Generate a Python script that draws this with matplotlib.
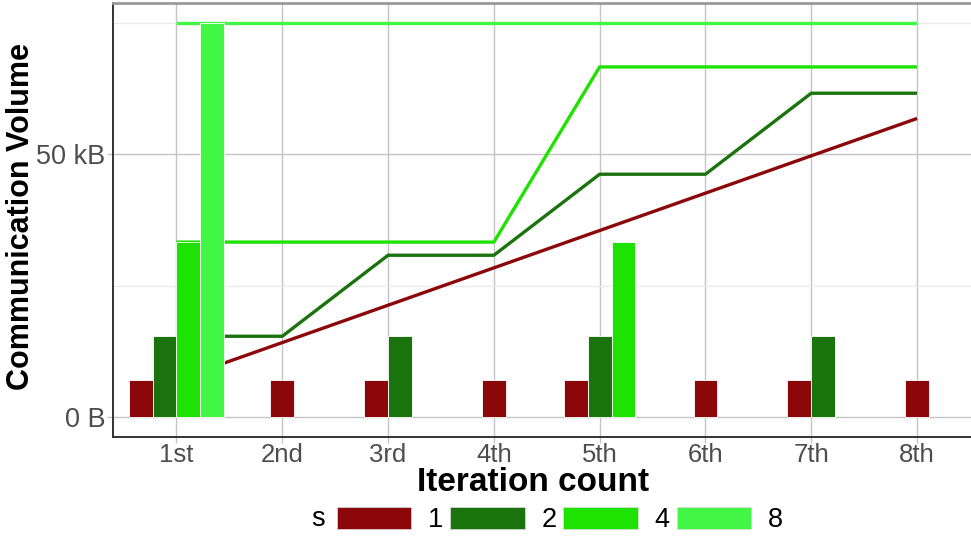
import matplotlib
matplotlib.use("Agg")
import matplotlib.pyplot as plt
import numpy as np
from matplotlib.patches import Patch
from matplotlib.ticker import FixedLocator, FuncFormatter

plt.rcParams['font.family'] = ['Liberation Sans', 'DejaVu Sans']

iterations = ['1st', '2nd', '3rd', '4th', '5th', '6th', '7th', '8th']
s_labels = ['1', '2', '4', '8']
colors = ['#8b0709', '#1b730e', '#1ee200', '#42f646']

# communication volume per iteration, in kB
vol_s1 = [7.1, 7.1, 7.1, 7.1, 7.1, 7.1, 7.1, 7.1]
vol_s2 = [15.4, 0, 15.4, 0, 15.4, 0, 15.4, 0]
vol_s4 = [33.3, 0, 0, 0, 33.3, 0, 0, 0]
vol_s8 = [75.0, 0, 0, 0, 0, 0, 0, 0]
volumes = [vol_s1, vol_s2, vol_s4, vol_s8]

W, H = 971, 539
fig = plt.figure(figsize=(W / 100, H / 100), dpi=100)
ax = fig.add_axes([113 / W, (H - 437) / H, (980.5 - 113) / W, (437 - 3) / H])

x = np.arange(1, len(iterations) + 1)

# cumulative lines (drawn under the bars)
for vol, c in zip(volumes, colors):
    ax.plot(x, np.cumsum(vol), color=c, lw=2.4, zorder=2, solid_capstyle='butt')

# dodged bars, centred on the groups present at each iteration
bw = 0.9 / len(volumes)
for i in range(len(iterations)):
    present = [k for k in range(len(volumes)) if volumes[k][i] > 0]
    n = len(present)
    for j, k in enumerate(present):
        pos = x[i] + (j - (n - 1) / 2) * bw
        ax.bar(pos, volumes[k][i], width=bw, color=colors[k],
               edgecolor='white', linewidth=0.6, zorder=3)

ax.set_xlim(0.4, 8.6)
ax.set_ylim(-3.75, 78.75)
ax.set_xticks(x)
ax.set_xticklabels(iterations)
ax.yaxis.set_major_locator(FixedLocator([0, 50]))
ax.yaxis.set_minor_locator(FixedLocator([25, 75]))
ax.yaxis.set_major_formatter(FuncFormatter(lambda v, p: '0 B' if v == 0 else '%d kB' % v))

ax.grid(True, which='major', color='#c4c4c4', lw=1.0, zorder=0)
ax.grid(True, which='minor', axis='y', color='#ebebeb', lw=1.0, zorder=0)
ax.set_axisbelow(True)

for side in ['left', 'bottom']:
    ax.spines[side].set_color('#333333')
    ax.spines[side].set_linewidth(1.4)
ax.spines['top'].set_color('#9a9a9a')
ax.spines['top'].set_linewidth(2.0)
ax.spines['right'].set_visible(False)

ax.tick_params(axis='both', which='major', labelsize=19.5, colors='#c4c4c4',
               labelcolor='#4d4d4d', length=4, width=1.0)
ax.tick_params(axis='x', which='major', pad=0, labelsize=18.5)
ax.tick_params(axis='y', which='major', pad=1.5)
ax.tick_params(axis='y', which='minor', length=0)

fig.text(21 / W, 1 - 217 / H, 'Communication Volume', rotation=90, ha='center', va='center',
         fontsize=22, fontweight='bold')
fig.text(533 / W, 1 - 467 / H, 'Iteration count', ha='center', va='top',
         fontsize=24, fontweight='bold')

fig.text(318 / W, 1 - 519 / H, 's', ha='center', va='center', fontsize=19.5)
handles = [Patch(facecolor=c, edgecolor='#dddddd', lw=0.5) for c in colors]
fig.legend(handles, s_labels, loc='center left', bbox_to_anchor=(337 / W, 1 - 520 / H),
           ncol=4, frameon=False, fontsize=19.5, handlelength=2.74, handleheight=0.9,
           handletextpad=0.62, columnspacing=0.26, borderpad=0, borderaxespad=0)

fig.savefig('out.png', dpi=100)
